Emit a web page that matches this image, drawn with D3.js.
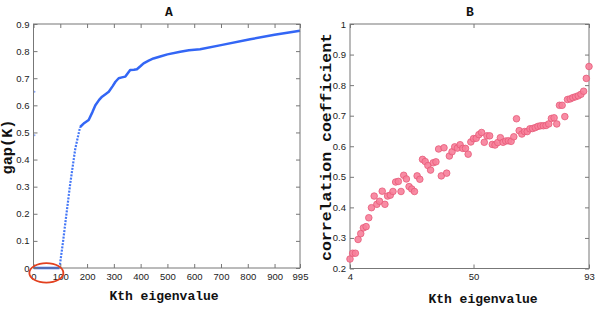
<!DOCTYPE html>
<html>
<head>
<meta charset="utf-8">
<script src="https://cdn.jsdelivr.net/npm/d3@7"></script>
<style>
  body { margin: 0; background: #fff; }
  .tick text { font-family: "Liberation Sans", Arial, sans-serif; font-size: 9.5px; fill: #222; }
  .tick line { stroke: #777; }
  .lbl { font-family: "Liberation Mono", "Courier New", monospace; font-weight: bold; font-size: 13px; fill: #111; }
</style>
</head>
<body>
<svg width="600" height="324"></svg>
<script>
(() => {
  // panel A: gap(K) curve
  const gapK = [1, 97, 110, 125, 137, 150, 156, 165, 174, 190, 206, 220, 231, 245, 256, 270, 281, 295, 306, 318, 330, 343, 361, 375, 386, 400, 411, 430, 448, 473, 500, 548, 580, 622, 700, 809, 900, 995];
  const gapVal = [0, 0, 0.095, 0.215, 0.31, 0.40, 0.44, 0.48, 0.52, 0.535, 0.546, 0.575, 0.60, 0.62, 0.632, 0.642, 0.65, 0.67, 0.687, 0.70, 0.703, 0.706, 0.73, 0.731, 0.733, 0.745, 0.755, 0.765, 0.773, 0.78, 0.788, 0.798, 0.803, 0.807, 0.822, 0.844, 0.86, 0.875];
  const strayK = [0, 0];
  const strayVal = [0.65, 0.49];
  const gapXTicks = [0, 100, 200, 300, 400, 500, 600, 700, 800, 900, 995];
  const gapYTicks = [0, 0.1, 0.2, 0.3, 0.4, 0.5, 0.6, 0.7, 0.8, 0.9];

  // panel B: correlation coefficient per eigenvalue
  const corrK = d3.range(4, 94);
  const corrVal = [0.231, 0.25, 0.25, 0.295, 0.314, 0.333, 0.337, 0.366, 0.399, 0.437,
    0.41, 0.42, 0.453, 0.41, 0.437, 0.44, 0.452, 0.483, 0.485, 0.452,
    0.505, 0.493, 0.468, 0.46, 0.452, 0.503, 0.492, 0.557, 0.55, 0.537,
    0.522, 0.546, 0.549, 0.591, 0.503, 0.595, 0.512, 0.568, 0.582, 0.598,
    0.594, 0.605, 0.593, 0.593, 0.574, 0.614, 0.625, 0.626, 0.638, 0.645,
    0.613, 0.634, 0.634, 0.606, 0.604, 0.612, 0.628, 0.613, 0.617, 0.618,
    0.616, 0.631, 0.69, 0.651, 0.64, 0.648, 0.648, 0.657, 0.658, 0.661,
    0.665, 0.667, 0.667, 0.668, 0.673, 0.691, 0.693, 0.673, 0.734, 0.734,
    0.697, 0.753, 0.755, 0.759, 0.762, 0.765, 0.77, 0.78, 0.822, 0.861];
  const corrXTicks = [4, 50, 93];
  const corrYTicks = [0.2, 0.3, 0.4, 0.5, 0.6, 0.7, 0.8, 0.9, 1];

  const svg = d3.select("svg");
  const fmt = d => d3.format("~g")(d);

  // draws the box with inward ticks on all four sides (matlab style)
  const drawFrame = (g, x, y, xt, yt) => {
    const [x0, x1] = x.range();
    const [y0, y1] = y.range();
    g.append("g").attr("transform", "translate(0," + y0 + ")")
      .call(d3.axisBottom(x).tickValues(xt).tickFormat(fmt).tickSizeInner(-4).tickSizeOuter(0).tickPadding(5))
      .call(a => a.select(".domain").remove());
    g.append("g").attr("transform", "translate(0," + y1 + ")")
      .call(d3.axisTop(x).tickValues(xt).tickFormat("").tickSizeInner(-4).tickSizeOuter(0))
      .call(a => a.select(".domain").remove());
    g.append("g").attr("transform", "translate(" + x0 + ",0)")
      .call(d3.axisLeft(y).tickValues(yt).tickFormat(fmt).tickSizeInner(-4).tickSizeOuter(0).tickPadding(4))
      .call(a => a.select(".domain").remove());
    g.append("g").attr("transform", "translate(" + x1 + ",0)")
      .call(d3.axisRight(y).tickValues(yt).tickFormat("").tickSizeInner(-4).tickSizeOuter(0))
      .call(a => a.select(".domain").remove());
    g.append("rect")
      .attr("x", x0).attr("y", y1)
      .attr("width", x1 - x0).attr("height", y0 - y1)
      .attr("fill", "none").attr("stroke", "#777").attr("stroke-width", 1);
  };

  // ---- panel A
  const xA = d3.scaleLinear().domain([0, 995]).range([33.5, 300]);
  const yA = d3.scaleLinear().domain([0, 0.9]).range([268, 24]);
  const gA = svg.append("g");

  const pts = gapK.map((k, i) => ({ k: k, v: gapVal[i] }));
  const line = d3.line().x(d => xA(d.k)).y(d => yA(d.v));
  const steep = pts.filter(d => d.k >= 97 && d.k <= 174);

  gA.append("path")
    .datum(pts.filter(d => d.k <= 97))
    .attr("d", line).attr("fill", "none")
    .attr("stroke", "#3366f5").attr("stroke-width", 2.5);
  gA.append("path")
    .datum(steep)
    .attr("d", line).attr("fill", "none")
    .attr("stroke", "#4477f7").attr("stroke-width", 2.2)
    .attr("stroke-dasharray", "2,1.3");
  gA.append("path")
    .datum(pts.filter(d => d.k >= 174))
    .attr("d", line).attr("fill", "none")
    .attr("stroke", "#3366f5").attr("stroke-width", 2.5)
    .attr("stroke-linejoin", "round");

  gA.selectAll(".stray")
    .data(strayK.map((k, i) => ({ k: k, v: strayVal[i] })))
    .enter().append("circle")
      .attr("class", "stray")
      .attr("cx", d => xA(d.k) + 1).attr("cy", d => yA(d.v))
      .attr("r", 1).attr("fill", "#8aa8f8");

  drawFrame(gA, xA, yA, gapXTicks, gapYTicks);

  // red circle marking the flat start
  gA.append("ellipse")
    .attr("cx", xA(48)).attr("cy", yA(-0.018))
    .attr("rx", 17).attr("ry", 9.8)
    .attr("fill", "none").attr("stroke", "#e2401f").attr("stroke-width", 1.8);

  gA.append("text").attr("class", "lbl")
    .attr("x", 169).attr("y", 16).attr("text-anchor", "middle").text("A");
  gA.append("text").attr("class", "lbl")
    .attr("x", 164).attr("y", 300).attr("text-anchor", "middle").text("Kth eigenvalue");
  gA.append("text").attr("class", "lbl")
    .attr("transform", "translate(12,147) rotate(-90)")
    .attr("text-anchor", "middle").style("font-size", "14px")
    .attr("textLength", 55).attr("lengthAdjust", "spacingAndGlyphs")
    .text("gap(K)");

  // ---- panel B
  const xB = d3.scaleLinear().domain([4, 93]).range([350, 589]);
  const yB = d3.scaleLinear().domain([0.2, 1]).range([268.5, 24]);
  const gB = svg.append("g");

  drawFrame(gB, xB, yB, corrXTicks, corrYTicks);

  gB.selectAll(".dot")
    .data(corrK.map((k, i) => ({ k: k, v: corrVal[i] })))
    .enter().append("circle")
      .attr("class", "dot")
      .attr("cx", d => xB(d.k)).attr("cy", d => yB(d.v))
      .attr("r", 3.3)
      .attr("fill", "#f7809a").attr("fill-opacity", 0.9)
      .attr("stroke", "#e65a78").attr("stroke-width", 0.8);

  gB.append("text").attr("class", "lbl")
    .attr("x", 470).attr("y", 16).attr("text-anchor", "middle").text("B");
  gB.append("text").attr("class", "lbl")
    .attr("x", 483).attr("y", 303).attr("text-anchor", "middle").text("Kth eigenvalue");
  gB.append("text").attr("class", "lbl")
    .attr("transform", "translate(331,147) rotate(-90)")
    .attr("text-anchor", "middle").style("font-size", "14px")
    .attr("textLength", 228).attr("lengthAdjust", "spacingAndGlyphs")
    .text("correlation coefficient");
})();
</script>
</body>
</html>
